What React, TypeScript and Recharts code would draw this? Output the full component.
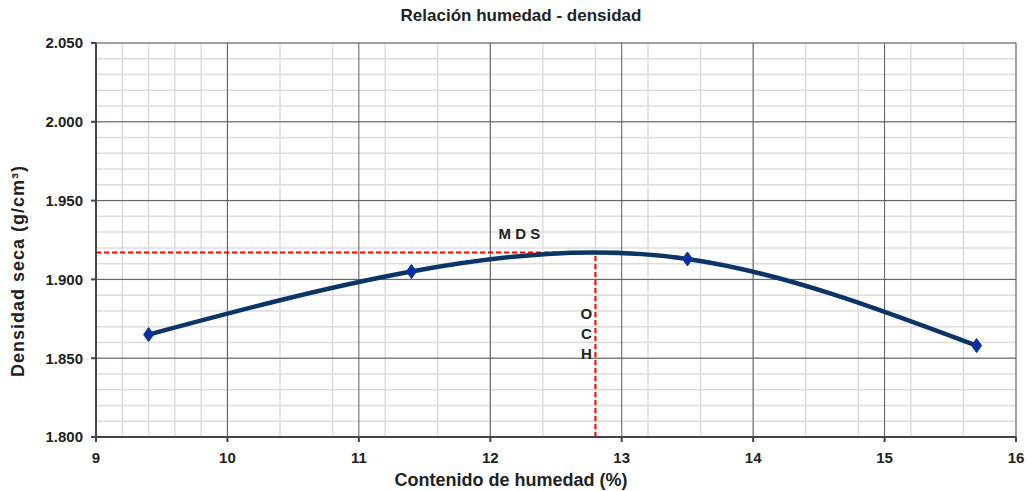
import {
  LineChart,
  Line,
  XAxis,
  YAxis,
  CartesianGrid,
  ReferenceLine,
  Label,
} from "recharts";

// moisture content (%) vs dry density (g/cm3)
const humedad = [9.4, 11.4, 13.5, 15.7];
const densidad = [1.865, 1.905, 1.913, 1.858];

const och = 12.8; // optimum moisture content
const mds = 1.917; // max dry density

const xTicks = [9, 10, 11, 12, 13, 14, 15, 16];
const yTicks = [1.8, 1.85, 1.9, 1.95, 2.0, 2.05];
const yDomain = [1.8, 2.05];
const xMinor = [
  9, 9.2, 9.4, 9.6, 9.8, 10, 10.2, 10.4, 10.6, 10.8, 11, 11.2, 11.4, 11.6, 11.8,
  12, 12.2, 12.4, 12.6, 12.8, 13, 13.2, 13.4, 13.6, 13.8, 14, 14.2, 14.4, 14.6,
  14.8, 15, 15.2, 15.4, 15.6, 15.8, 16,
];
const yMinor = [
  1.8, 1.81, 1.82, 1.83, 1.84, 1.85, 1.86, 1.87, 1.88, 1.89, 1.9, 1.91, 1.92,
  1.93, 1.94, 1.95, 1.96, 1.97, 1.98, 1.99, 2.0, 2.01, 2.02, 2.03, 2.04, 2.05,
];

const data = humedad.map((h, i) => ({ h, d: densidad[i] }));

const font = "'Liberation Sans', Arial, sans-serif";

const Diamond = (props: any) => {
  const { cx, cy } = props;
  if (cx == null || cy == null) return null;
  return (
    <path
      d={`M${cx},${cy - 7} L${cx + 5},${cy} L${cx},${cy + 7} L${cx - 5},${cy} Z`}
      fill="#0a2fa0"
      stroke="#0a2fa0"
    />
  );
};

const MdsLabel = (props: any) => {
  const { viewBox } = props;
  return (
    <text
      x={viewBox.x + viewBox.width - 76}
      y={viewBox.y - 14}
      fontFamily={font}
      fontWeight="bold"
      fontSize={15}
      fill="#222"
      textAnchor="middle"
    >
      M D S
    </text>
  );
};

const OchLabel = (props: any) => {
  const { viewBox } = props;
  const x = viewBox.x - 9;
  const yb = viewBox.y + viewBox.height;
  return (
    <text fontFamily={font} fontWeight="bold" fontSize={15} fill="#222" textAnchor="middle">
      <tspan x={x} y={yb - 118}>O</tspan>
      <tspan x={x} y={yb - 98}>C</tspan>
      <tspan x={x} y={yb - 78}>H</tspan>
    </text>
  );
};

const tickStyle = { fontFamily: font, fontWeight: "bold", fontSize: 15, fill: "#222" };

// minor horizontal grid rows, placed inside the plot box
const minorRows = ({ offset }: any) =>
  yMinor.map(
    (v) =>
      offset.top +
      (offset.height * (yDomain[1] - v)) / (yDomain[1] - yDomain[0])
  );

export default function App() {
  return (
    <div style={{ position: "absolute", left: 0, top: 0, width: 1031, height: 491, background: "#fff" }}>
      <div
        style={{
          position: "absolute",
          top: 6,
          left: 0,
          width: 1042,
          textAlign: "center",
          fontFamily: font,
          fontWeight: "bold",
          fontSize: 17,
          color: "#222",
        }}
      >
        Relación humedad - densidad
      </div>
      <LineChart
        width={1031}
        height={491}
        data={data}
        margin={{ top: 43, right: 15, bottom: 24, left: 0 }}
      >
        <XAxis xAxisId="minor" dataKey="h" type="number" domain={[9, 16]} ticks={xMinor} hide />
        <CartesianGrid
          xAxisId="minor"
          stroke="#dcdcdc"
          strokeWidth={1.5}
          horizontalCoordinatesGenerator={minorRows}
        />
        <CartesianGrid stroke="#5a5a5a" strokeWidth={1} />
        <XAxis
          dataKey="h"
          type="number"
          domain={[9, 16]}
          ticks={xTicks}
          height={30}
          stroke="#444"
          strokeWidth={2}
          tickSize={5}
          tickMargin={10}
          tick={tickStyle}
        >
          <Label
            value="Contenido de humedad (%)"
            position="insideBottom"
            offset={-19}
            dx={-45}
            style={{ fontFamily: font, fontWeight: "bold", fontSize: 18, fill: "#222" }}
          />
        </XAxis>
        <YAxis
          type="number"
          domain={yDomain}
          ticks={yTicks}
          width={96}
          stroke="#444"
          strokeWidth={2}
          tickSize={5}
          tickMargin={8}
          tickFormatter={(v: number) => v.toFixed(3)}
          tick={tickStyle}
        >
          <Label
            value="Densidad seca (g/cm³)"
            angle={-90}
            position="insideLeft"
            offset={18}
            dy={31}
            style={{
              fontFamily: font,
              fontWeight: "bold",
              fontSize: 18,
              letterSpacing: 1,
              fill: "#222",
              textAnchor: "middle",
            }}
          />
        </YAxis>
        <ReferenceLine
          segment={[
            { x: 9, y: mds },
            { x: och, y: mds },
          ]}
          stroke="#ff0000"
          strokeWidth={2}
          strokeDasharray="5 3"
          label={<MdsLabel />}
        />
        <ReferenceLine
          segment={[
            { x: och, y: 1.8 },
            { x: och, y: mds },
          ]}
          stroke="#ff0000"
          strokeWidth={2}
          strokeDasharray="5 3"
          label={<OchLabel />}
        />
        <Line
          dataKey="d"
          type="natural"
          stroke="#0b3566"
          strokeWidth={4.5}
          dot={<Diamond />}
          activeDot={false}
          isAnimationActive={false}
        />
      </LineChart>
    </div>
  );
}
